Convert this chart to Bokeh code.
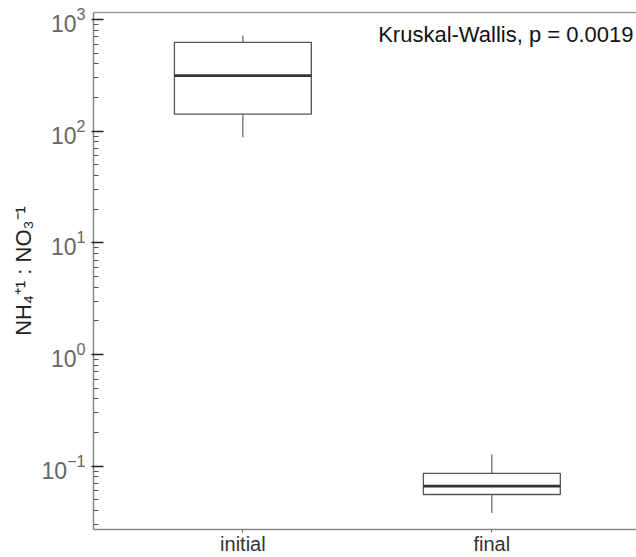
from bokeh.plotting import figure
from bokeh.models import Range1d, FixedTicker, LinearAxis, Label
from bokeh.embed import file_html
from bokeh.resources import INLINE

# ---- data ----
categories = ["initial", "final"]
lower_whisker = [88.0, 0.038]
q1 = [142.0, 0.0556]
median = [315.0, 0.066]
q3 = [625.0, 0.086]
upper_whisker = [718.0, 0.127]
stat_text = "Kruskal-Wallis, p = 0.0019"
major_ticks = [0.1, 1, 10, 100, 1000]
minor_ticks = [m * 10.0 ** k for k in range(-2, 4) for m in range(2, 10)]

xs = [i + 1 for i in range(len(categories))]
bw = 0.55
FONT = "Liberation Sans"

p = figure(width=636, height=557, output_backend="svg", toolbar_location=None,
           x_range=Range1d(0.4, 2.581), y_range=Range1d(0.027, 1156),
           y_axis_type="log", min_border_left=93, min_border_right=0,
           min_border_top=12, min_border_bottom=0)
p.outline_line_color = None
p.xgrid.visible = False
p.ygrid.visible = False
p.background_fill_color = "white"
p.border_fill_color = "white"

# whiskers
p.segment(x0=xs, y0=q3, x1=xs, y1=upper_whisker, line_color="#444444", line_width=1)
p.segment(x0=xs, y0=q1, x1=xs, y1=lower_whisker, line_color="#444444", line_width=1)
# boxes
p.vbar(x=xs, bottom=q1, top=q3, width=bw, fill_color="white",
       line_color="#555555", line_width=1.3)
# medians
p.segment(x0=[x - bw / 2 for x in xs], y0=median, x1=[x + bw / 2 for x in xs],
          y1=median, line_color="#333333", line_width=2.8)

# x axis
xa = p.xaxis[0]
xa.ticker = FixedTicker(ticks=xs)
xa.major_label_overrides = {x: c for x, c in zip(xs, categories)}
xa.major_label_text_font = FONT
xa.major_label_text_font_size = "20px"
xa.major_label_text_color = "#333333"
xa.major_label_standoff = 0
xa.major_tick_in = 0
xa.major_tick_out = 3
xa.major_tick_line_color = "#666666"
xa.minor_tick_line_color = None
xa.axis_line_color = "#888888"
xa.axis_line_width = 1.5

# y axis
ya = p.yaxis[0]
ya.ticker = FixedTicker(ticks=major_ticks, minor_ticks=minor_ticks)
ya.major_label_text_font = FONT
ya.major_label_text_font_size = "23px"
ya.major_label_text_color = "#666666"
ya.major_label_standoff = 6
ya.major_tick_in = 10
ya.major_tick_out = 2
ya.major_tick_line_color = "#222222"
ya.major_tick_line_width = 1.5
ya.minor_tick_in = 5
ya.minor_tick_out = 0
ya.minor_tick_line_color = "#555555"
ya.minor_tick_line_width = 1.2
ya.axis_line_color = "#888888"
ya.axis_line_width = 1.5
ya.axis_label = "NH\u2084\u207a\u00b9 : NO\u2083\u207b\u00b9"
ya.axis_label_text_font = FONT
ya.axis_label_text_font_size = "22px"
ya.axis_label_text_font_style = "normal"
ya.axis_label_text_color = "#222222"
ya.axis_label_standoff = 3

# top frame line
top = LinearAxis(ticker=FixedTicker(ticks=[]), axis_line_color="#999999",
                 axis_line_width=1.5, major_tick_in=0, major_tick_out=0,
                 minor_tick_in=0, minor_tick_out=0, major_label_standoff=0)
p.add_layout(top, "above")

p.add_layout(Label(x=2.569, y=733, text=stat_text, text_align="right",
                   text_baseline="alphabetic", text_font=FONT,
                   text_font_size="22px", text_color="#111111"))

open("out.html", "w").write(file_html(p, INLINE))
